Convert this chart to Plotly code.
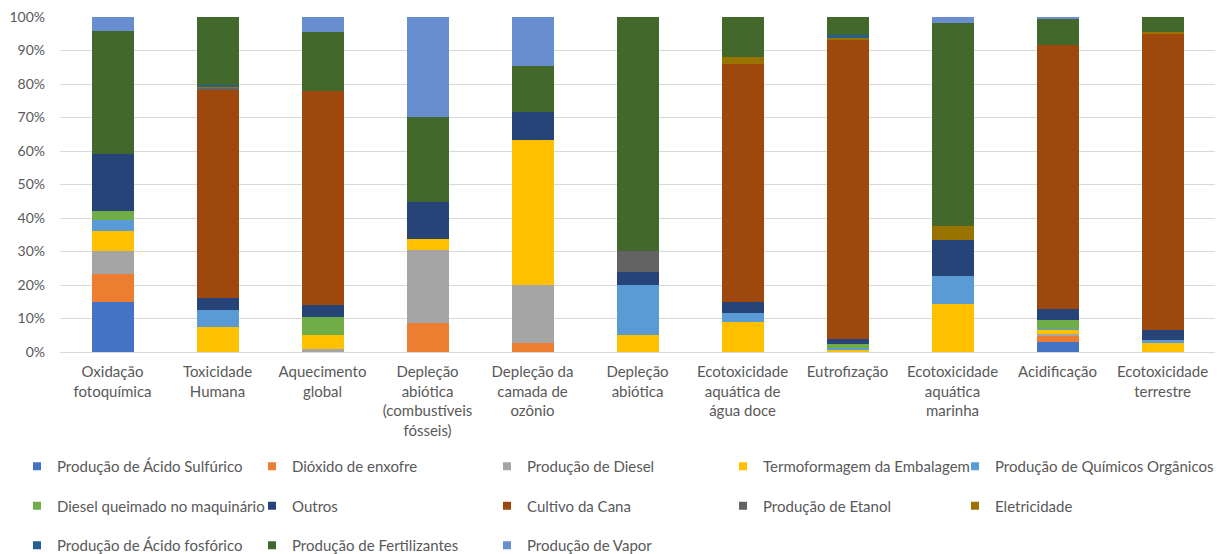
import plotly.graph_objects as go

categories = ["Oxidação<br>fotoquímica", "Toxicidade<br>Humana", "Aquecimento<br>global",
              "Depleção<br>abiótica<br>(combustíveis<br>fósseis)", "Depleção da<br>camada de<br>ozônio",
              "Depleção<br>abiótica", "Ecotoxicidade<br>aquática de<br>água doce", "Eutrofização",
              "Ecotoxicidade<br>aquática<br>marinha", "Acidificação", "Ecotoxicidade<br>terrestre"]

sulfurico = [14.9, 0, 0, 0, 0, 0, 0, 0, 0, 3.1, 0]
dioxido = [8.5, 0, 0, 8.7, 2.8, 0, 0, 0, 0, 1.7, 0]
diesel = [6.7, 0, 0.8, 21.8, 17.1, 0, 0, 0, 0, 0.7, 0]
termo = [6.0, 7.5, 4.2, 3.2, 43.5, 5.2, 9.0, 0.8, 14.4, 1.2, 2.7]
quimicos = [3.2, 5.1, 0, 0, 0, 14.7, 2.7, 0.5, 8.4, 0.3, 0.8]
diesel_q = [2.7, 0, 5.4, 0, 0, 0, 0, 1.0, 0, 2.5, 0]
outros = [17.2, 3.5, 3.7, 11.2, 8.1, 4.0, 3.2, 1.5, 10.6, 3.4, 3.2]
cultivo = [0, 62.2, 63.7, 0, 0, 0, 71.2, 89.4, 0, 78.6, 88.1]
etanol = [0, 0.4, 0, 0, 0, 6.2, 0, 0, 0, 0, 0]
eletricidade = [0, 0.6, 0, 0, 0, 0, 2.0, 0.5, 4.3, 0, 0.8]
fosforico = [0, 0.2, 0, 0, 0, 0, 0, 1.0, 0, 0, 0]
fertilizantes = [36.6, 20.4, 17.7, 25.4, 13.9, 69.9, 11.9, 5.3, 60.6, 7.8, 4.4]
vapor = [4.2, 0, 4.5, 29.7, 14.6, 0, 0, 0, 1.7, 0.7, 0]

series = [
    ("Produção de Ácido Sulfúrico", sulfurico, "#4472C4", "legend"),
    ("Dióxido de enxofre", dioxido, "#ED7D31", "legend2"),
    ("Produção de Diesel", diesel, "#A5A5A5", "legend3"),
    ("Termoformagem da Embalagem", termo, "#FFC000", "legend4"),
    ("Produção de Químicos Orgânicos", quimicos, "#5B9BD5", "legend5"),
    ("Diesel queimado no maquinário", diesel_q, "#70AD47", "legend"),
    ("Outros", outros, "#264478", "legend2"),
    ("Cultivo da Cana", cultivo, "#9E480E", "legend3"),
    ("Produção de Etanol", etanol, "#636363", "legend4"),
    ("Eletricidade", eletricidade, "#997300", "legend5"),
    ("Produção de Ácido fosfórico", fosforico, "#255E91", "legend"),
    ("Produção de Fertilizantes", fertilizantes, "#43682B", "legend2"),
    ("Produção de Vapor", vapor, "#698ED0", "legend3"),
]

fig = go.Figure()
for i, (name, vals, color, lg) in enumerate(series):
    fig.add_trace(go.Bar(x=categories, y=vals, name=name, marker_color=color,
                         marker_line_width=0, showlegend=False, legendgroup=f"g{i}"))
# legend-only entries (small square keys, as in the reference)
for i, (name, vals, color, lg) in enumerate(series):
    fig.add_trace(go.Scatter(x=[None], y=[None], mode="markers", name=name,
                             marker=dict(symbol="square", size=8, color=color),
                             legend=lg, legendgroup=f"g{i}", hoverinfo="skip"))

txt = "#595959"
fam = "Lato, Liberation Sans, sans-serif"
font = dict(family=fam, size=15, color=txt)
lfont = dict(family=fam, size=15, color=txt)
W, H = 1219, 554
ML, MR = 60, 4
PW = W - ML - MR
legend_x = [17, 252, 487, 723, 961]
legends = {}
for j, lx in enumerate(legend_x):
    key = "legend" if j == 0 else f"legend{j+1}"
    legends[key] = dict(xref="paper", yref="container", x=(lx - ML) / PW, y=1 - 450 / H,
                        xanchor="left", yanchor="top", orientation="v",
                        traceorder="grouped", tracegroupgap=17, font=lfont,
                        bgcolor="rgba(0,0,0,0)", itemclick=False)

fig.update_layout(
    barmode="stack", barnorm="percent", bargap=0.6,
    width=W, height=H,
    margin=dict(l=ML, r=MR, t=17, b=202),
    plot_bgcolor="white", paper_bgcolor="white",
    font=font,
    **legends,
)
fig.update_yaxes(range=[0, 100], dtick=10, ticksuffix="%", showgrid=True, gridcolor="#D9D9D9",
                 gridwidth=1, zeroline=False, tickfont=dict(family=fam, size=14, color=txt),
                 ticklabelstandoff=14)
fig.update_xaxes(showline=True, linecolor="#D9D9D9", linewidth=1,
                 tickfont=dict(family=fam, size=15, color=txt),
                 ticks="", tickangle=0, ticklabelstandoff=6)

fig.write_html("out.html")
